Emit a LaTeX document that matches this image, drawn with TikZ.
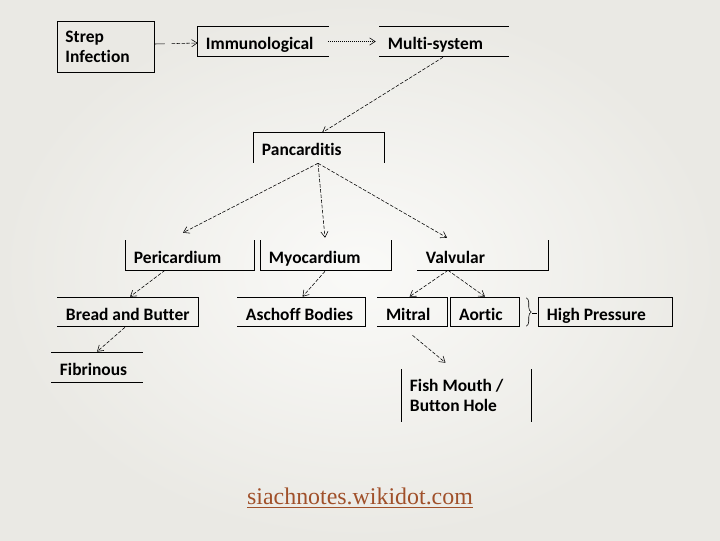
\documentclass[tikz,border=0pt]{standalone}
\usepackage{fontspec}
\setmainfont{Carlito}[BoldFont={Carlito Bold}, Ligatures=NoCommon]
\newfontfamily\urlfont{Liberation Serif}
\usetikzlibrary{arrows.meta,calc,decorations.pathreplacing}
\definecolor{slidebg}{RGB}{234,233,228}
\definecolor{slidecentre}{RGB}{250,250,248}
\definecolor{linkbrown}{RGB}{160,80,42}
\tikzset{
  flowarrow/.style={-{Straight Barb[length=1.4mm,width=1.8mm]}, line width=0.4pt, dash pattern=on 2.5pt off 1.2pt},
  dotarrow/.style={-{Straight Barb[length=1.4mm,width=1.8mm]}, line width=0.4pt, dash pattern=on 0.6pt off 0.8pt},
  box/.style={font=\fontsize{12.4}{14.5}\selectfont\bfseries, inner xsep=0.2cm, inner ysep=0pt, align=flush left, text width=#1, minimum height=0.725cm, text height=12.3pt, text depth=0.3pt},
  twoline/.style={text height=, text depth=},
  edge/.style={line width=0.7pt, line cap=rect},
  bracket/.style={decorate, decoration={brace, amplitude=3.5pt}, line width=0.4pt}
}
\begin{document}
\begin{tikzpicture}[x=0.025cm, y=-0.025cm]
  % slide background
  \shade[inner color=slidecentre, outer color=slidebg] (0,0) rectangle (720,540);

  % top row
  \node[box=2.025cm, twoline, minimum height=1.25cm] (strep) at (106,47) {Strep\\Infection};
  \node[box=2.85cm] (immuno) at (263,41.5) {Immunological};
  \node[box=2.8cm] (multi) at (444,41.5) {Multi-system};
  \node[box=2.85cm] (pan) at (319,147.5) {Pancarditis};

  % second row
  \node[box=2.8cm] (peri) at (190,255.5) {Pericardium};
  \node[box=2.85cm] (myo) at (326,255.5) {Myocardium};
  \node[box=2.85cm] (valv) at (483,255.5) {Valvular};

  % third row
  \node[box=3.1cm, minimum height=0.7cm] (bread) at (128,312) {\mbox{Bread and Butter}};
  \node[box=2.775cm, minimum height=0.7cm] (asch) at (301.5,312) {Aschoff Bodies};
  \node[box=1.325cm, minimum height=0.7cm] (mitral) at (412.5,312) {Mitral};
  \node[box=1.3cm, minimum height=0.7cm] (aortic) at (485,312) {Aortic};
  \node[box=2.925cm, minimum height=0.7cm] (high) at (605.5,312) {High Pressure};

  % bottom row
  \node[box=1.85cm] (fib) at (97,367.5) {Fibrinous};
  \node[box=2.825cm, twoline, minimum height=1.275cm] (fish) at (466.5,395.5) {Fish Mouth /\\Button Hole};

  % box outlines (some sides left open)
  \draw[edge] (strep.north west) rectangle (strep.south east);
  \draw[edge] (immuno.north east) -- (immuno.north west) -- (immuno.south west) -- (immuno.south east);
  \draw[edge] (multi.north west) -- (multi.north east);
  \draw[edge] (multi.south west) -- (multi.south east);
  \draw[edge] (pan.south west) -- (pan.north west) -- (pan.north east) -- (pan.south east);
  \draw[edge] (peri.north west) -- (peri.south west) -- (peri.south east) -- (peri.north east);
  \draw[edge] (myo.north west) -- (myo.south west) -- (myo.south east) -- (myo.north east);
  \draw[edge] (valv.south west) -- (valv.south east) -- (valv.north east);
  \draw[edge] (bread.north west) -- (bread.north east) -- (bread.south east) -- (bread.south west);
  \draw[edge] (asch.north west) -- (asch.north east) -- (asch.south east) -- (asch.south west);
  \draw[edge] (mitral.north west) -- (mitral.north east) -- (mitral.south east) -- (mitral.south west);
  \draw[edge] (aortic.north west) rectangle (aortic.south east);
  \draw[edge] (high.north west) rectangle (high.south east);
  \draw[edge] (fib.north west) -- (fib.north east);
  \draw[edge] (fib.south west) -- (fib.south east);
  \draw[edge] (fish.north west) -- (fish.south west);
  \draw[edge] (fish.north east) -- (fish.south east);

  % connectors
  \draw[flowarrow, dash pattern=on 7pt off 5pt on 2.5pt off 1pt on 2.5pt off 1pt on 2.5pt off 1pt on 2.5pt off 1pt on 2.5pt off 1pt] ($(strep.east)+(0,-3)$) -- ($(immuno.west)+(0,1.5)$);
  \draw[dotarrow] (immuno.east) -- ($(multi.west)+(-4,0)$);
  \draw[flowarrow] ($(multi.south)+(-1,1)$) -- ($(pan.north)+(3,0)$);
  \draw[flowarrow] ($(pan.south)+(-1,1)$) -- ($(peri.north)+(-7,-8)$);
  \draw[flowarrow] ($(pan.south)+(-1,1)$) -- ($(myo.north)+(-1,-3)$);
  \draw[flowarrow] ($(pan.south)+(-1,1)$) -- ($(valv.north)+(-36,-3)$);
  \draw[flowarrow] ($(peri.south)+(-25,0)$) -- ($(bread.north)+(2,-1)$);
  \draw[flowarrow] ($(myo.south)+(-1,1)$) -- ($(asch.north)+(1,-1)$);
  \draw[flowarrow] ($(valv.south)+(-35,0)$) -- ($(mitral.north)+(-3,-1)$);
  \draw[flowarrow] ($(valv.south)+(-35,0)$) -- ($(aortic.north)+(0,-1)$);
  \draw[flowarrow] ($(bread.south)+(-3,1)$) -- ($(fib.north)+(0,-1)$);
  \draw[flowarrow] ($(mitral.south)+(0,9)$) -- ($(fish.north)+(-21,-7)$);

  % brace grouping Mitral and Aortic
  \draw[bracket] ($(aortic.north east)+(7,0)$) -- ($(aortic.south east)+(7,0)$);
  \coordinate (bracetip) at ($(aortic.east)+(13,1)$);
  \draw[line width=0.4pt] (bracetip) -- ($(high.west |- bracetip)+(-2,0)$);

  % source link
  \node[font=\urlfont\fontsize{17}{20}\selectfont, text=linkbrown] (src) at (360,498) {\underline{siachnotes.wikidot.com}};
\end{tikzpicture}
\end{document}
